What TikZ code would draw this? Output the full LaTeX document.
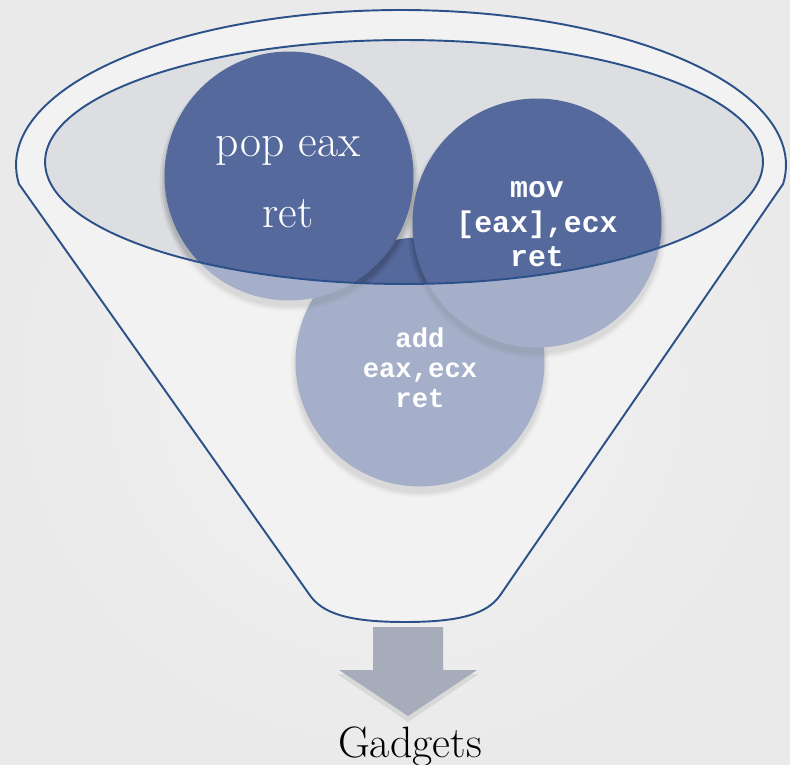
\documentclass[tikz,border=0pt]{standalone}
\usepackage{fontspec}
\newfontfamily\monob{Liberation Mono}
\definecolor{lineblue}{HTML}{2C5189}
\definecolor{mouthgrey}{HTML}{DCDEE2}
\definecolor{ballblue}{HTML}{55699C}
\definecolor{arrowgrey}{HTML}{A7ACBA}
\definecolor{funnelbase}{HTML}{E8E8E8}
\definecolor{bgin}{HTML}{F3F3F3}
\definecolor{bgout}{HTML}{EAEAEA}
\begin{document}
\begin{tikzpicture}[x=0.02cm,y=0.02cm]
\tikzset{
  outline/.style={draw=lineblue, line width=1.1pt},
  ball/.style={circle, fill=ballblue, minimum size=4.98cm, inner sep=0pt},
  serifline/.style={text=white, font=\fontsize{26}{30}\selectfont, anchor=base, inner sep=0pt},
  movline/.style={text=white, font=\monob\bfseries\fontsize{17}{20}\selectfont, anchor=base, inner sep=0pt},
  addline/.style={text=white, font=\monob\bfseries\fontsize{15.5}{18}\selectfont, anchor=base, inner sep=0pt},
  caption/.style={text=black, font=\fontsize{25}{30}\selectfont, anchor=base, inner sep=0pt}
}
\def\funnelpath{(501,170) -- plot[domain=-7:187, samples=90, variable=\t] ({401+385*cos(\t)}, {599+155*sin(\t)}) -- (309,170) .. controls (322,150) and (350,142) .. (405,142) .. controls (460,142) and (488,150) .. (501,170) -- cycle}
\useasboundingbox (0,0) rectangle (790,764);
% background
\shade[inner color=bgin, outer color=bgout] (0,0) rectangle (790,764);
% funnel body (back)
\fill[funnelbase] \funnelpath;
% mouth interior
\fill[mouthgrey] (404,602) ellipse [x radius=7.18cm, y radius=2.44cm];
% balls with soft shadows
\foreach \s/\o in {0.10/0.05, 0.06/0.07, 0.02/0.09}{
  \fill[black, opacity=\o] (420,396) circle ({2.49cm+\s cm});
}
\node[ball] (addball) at (420,402) {};
\foreach \s/\o in {0.10/0.05, 0.06/0.07, 0.02/0.09}{
  \fill[black, opacity=\o] (289,582) circle ({2.49cm+\s cm});
}
\node[ball] (popball) at (289,588) {};
\foreach \s/\o in {0.10/0.05, 0.06/0.07, 0.02/0.09}{
  \fill[black, opacity=\o] (537,535) circle ({2.49cm+\s cm});
}
\node[ball] (movball) at (537,541) {};
% front face of the funnel (translucent, over the balls)
\fill[white, opacity=0.47, even odd rule] \funnelpath (404,602) ellipse [x radius=7.18cm, y radius=2.44cm];
% outlines
\draw[outline, line join=round] \funnelpath;
\draw[outline] (404,602) ellipse [x radius=7.18cm, y radius=2.44cm];
% arrow
\fill[black, opacity=0.08] (373,133) -- (443,133) -- (443,90) -- (479,90) -- (408,42) -- (337,90) -- (373,90) -- cycle;
\fill[arrowgrey] (373,137) -- (443,137) -- (443,94) -- (477,94) -- (408,48) -- (339,94) -- (373,94) -- cycle;
% texts
\node[serifline] (pop1) at (288,607) {pop eax};
\node[serifline] (pop2) at (288,536) {ret};
\node[movline] (mov1) at (537,566) {mov};
\node[movline] (mov2) at (537,531) {[eax],ecx};
\node[movline] (mov3) at (537,497) {ret};
\node[addline] (add1) at (420,416) {add};
\node[addline] (add2) at (420,386) {eax,ecx};
\node[addline] (add3) at (420,356) {ret};
\node[caption] (gadgets) at (410,7) {Gadgets};
\end{tikzpicture}
\end{document}
